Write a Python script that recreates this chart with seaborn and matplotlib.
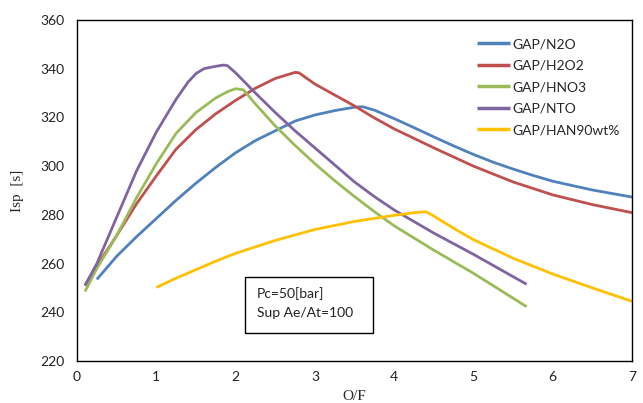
import numpy as np
import pandas as pd
import matplotlib
matplotlib.use("Agg")
import matplotlib.pyplot as plt
from matplotlib.patches import Rectangle
import seaborn as sns

# Specific impulse vs. mixture ratio for GAP-based propellant combinations
of_n2o = [0.25, 0.5, 0.75, 1.0, 1.25, 1.5, 1.75, 2.0, 2.25, 2.5, 2.75, 3.0, 3.25, 3.5, 3.6,
          3.75, 4.0, 4.25, 4.5, 4.75, 5.0, 5.25, 5.5, 5.75, 6.0, 6.5, 7.0]
isp_n2o = [253.5, 263, 271, 278.5, 286, 293, 299.5, 305.5, 310.5, 314.5, 318.5, 321, 322.8, 324.2, 324.4,
           323, 319.5, 315.8, 312, 308.3, 304.8, 301.6, 298.8, 296.2, 293.8, 290.2, 287.3]

of_h2o2 = [0.1, 0.25, 0.5, 0.75, 1.0, 1.25, 1.5, 1.75, 2.0, 2.25, 2.5, 2.6, 2.75, 2.8, 3.0,
           3.25, 3.5, 3.75, 4.0, 4.5, 5.0, 5.5, 6.0, 6.5, 7.0]
isp_h2o2 = [251, 259, 271.5, 284.5, 296, 307, 315, 321.5, 327, 332, 336, 337, 338.5, 338.3, 333.7,
            329.2, 324.7, 319.8, 315.3, 307.5, 300, 293.5, 288.2, 284.2, 280.9]

of_hno3 = [0.1, 0.25, 0.5, 0.75, 1.0, 1.25, 1.5, 1.75, 1.9, 2.0, 2.1, 2.25, 2.5, 2.75, 3.0,
           3.25, 3.5, 3.75, 4.0, 4.5, 5.0, 5.67]
isp_hno3 = [248.5, 258, 271.5, 287, 301, 313.5, 322, 328, 330.6, 331.8, 331.3, 325.5, 316.5, 308.5, 301,
            294, 287.5, 281.3, 275.5, 265.5, 256, 242.3]

of_nto = [0.1, 0.25, 0.5, 0.75, 1.0, 1.25, 1.4, 1.5, 1.6, 1.75, 1.85, 1.9, 2.0, 2.25, 2.5, 2.75,
          3.0, 3.25, 3.5, 3.75, 4.0, 4.5, 5.0, 5.67]
isp_nto = [251, 260, 279, 298, 314, 327.5, 334.5, 338, 340, 341, 341.5, 341.2, 338.3, 330, 322, 314.5,
           307.5, 300.5, 293.5, 287.5, 282, 272.5, 263.8, 251.5]

of_han = [1.0, 1.25, 1.5, 1.75, 2.0, 2.5, 3.0, 3.5, 4.0, 4.25, 4.4, 4.5, 4.75, 5.0,
          5.5, 6.0, 6.5, 7.0]
isp_han = [250.2, 254, 257.5, 261, 264.2, 269.5, 274, 277.3, 279.8, 280.9, 281.3, 279.5, 274.5, 269.8,
           262.2, 255.7, 250, 244.5]

series_names = ["GAP/N2O", "GAP/H2O2", "GAP/HNO3", "GAP/NTO", "GAP/HAN90wt%"]
series_colors = ["#4F81BD", "#C0504D", "#9BBB59", "#8064A2", "#FFC000"]
x_ticks = [0, 1, 2, 3, 4, 5, 6, 7]
y_ticks = [220, 240, 260, 280, 300, 320, 340, 360]

frames = []
for name, xs, ys in zip(series_names,
                        [of_n2o, of_h2o2, of_hno3, of_nto, of_han],
                        [isp_n2o, isp_h2o2, isp_hno3, isp_nto, isp_han]):
    frames.append(pd.DataFrame({"O/F": xs, "Isp": ys, "series": name}))
df = pd.concat(frames, ignore_index=True)

sns.set_style("white")
plt.rcParams["font.family"] = ["Lato", "DejaVu Sans"]

fig = plt.figure(figsize=(6.43, 4.03), dpi=100)
ax = fig.add_axes([0.1198, 0.1042, 0.8632, 0.8462])

sns.lineplot(data=df, x="O/F", y="Isp", hue="series", hue_order=series_names,
             palette=dict(zip(series_names, series_colors)), estimator=None,
             sort=False, linewidth=2.0, ax=ax)
for line in ax.get_lines():
    line.set_solid_joinstyle("round")
    line.set_solid_capstyle("butt")

ax.set_xlim(0, 7)
ax.set_ylim(220, 360)
ax.set_xticks(x_ticks)
ax.set_yticks(y_ticks)
ax.tick_params(direction="in", length=4, width=1, colors="black", labelsize=10,
               labelcolor="#222222")
ax.tick_params(axis="x", pad=7)
ax.tick_params(axis="y", pad=9)
for sp in ax.spines.values():
    sp.set_color("black")
    sp.set_linewidth(1.0)

ax.set_xlabel("O/F", family="Liberation Serif", fontsize=11, labelpad=5)
ax.set_ylabel("Isp  [s]", family="Liberation Serif", fontsize=11, labelpad=12)

leg = ax.legend(loc="upper right", bbox_to_anchor=(0.995, 0.975), frameon=False,
                fontsize=10, handlelength=2.4, handletextpad=0.15,
                labelspacing=0.68, borderaxespad=0.3)
for line in leg.get_lines():
    line.set_linewidth(2.5)

# annotation box with chamber conditions
ax.add_patch(Rectangle((0.303, 0.082), 0.230, 0.164, transform=ax.transAxes,
                       facecolor="white", edgecolor="black", linewidth=1.0, zorder=5))
ax.text(0.324, 0.199, "Pc=50[bar]", transform=ax.transAxes, fontsize=10,
        va="center", ha="left", color="#222222", zorder=6)
ax.text(0.324, 0.141, "Sup Ae/At=100", transform=ax.transAxes, fontsize=10,
        va="center", ha="left", color="#222222", zorder=6)

fig.savefig("out.png", dpi=100)
